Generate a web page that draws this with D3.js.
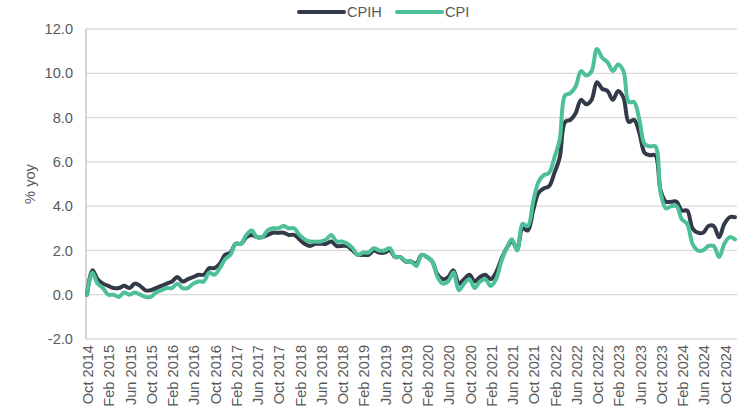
<!DOCTYPE html>
<html><head>
<meta charset="utf-8">
<script src="https://d3js.org/d3.v7.min.js"></script>
<style>
  body { margin: 0; background: #fff; }
  text { font-family: "Liberation Sans", Arial, sans-serif; fill: #595959; }
  .grid { stroke: #d9d9d9; stroke-width: 1.3px; }
  .series { fill: none; stroke-width: 4px; stroke-linejoin: round; stroke-linecap: round; }
</style>
</head>
<body>
<svg id="chart" width="745" height="412"></svg>
<script>
// monthly, Oct 2014 .. Dec 2024 (first point blank in the source, drawn at 0)
const months = d3.timeMonth.range(new Date(2014, 9, 1), new Date(2025, 0, 1));

const cpih = [
  0, 1.1, 0.7,
  0.5, 0.4, 0.3, 0.3, 0.4, 0.3, 0.5, 0.4, 0.2, 0.2, 0.3, 0.4,
  0.5, 0.6, 0.8, 0.6, 0.7, 0.8, 0.9, 0.9, 1.2, 1.2, 1.4, 1.8,
  1.9, 2.3, 2.3, 2.6, 2.7, 2.6, 2.6, 2.7, 2.8, 2.8, 2.8, 2.7,
  2.7, 2.5, 2.3, 2.2, 2.3, 2.3, 2.3, 2.4, 2.2, 2.2, 2.2, 2.0,
  1.8, 1.8, 1.8, 2.0, 1.9, 1.9, 2.0, 1.7, 1.7, 1.5, 1.5, 1.4,
  1.8, 1.7, 1.5, 0.9, 0.7, 0.8, 1.1, 0.5, 0.7, 0.9, 0.6, 0.8,
  0.9, 0.7, 1.0, 1.6, 2.1, 2.4, 2.1, 3.0, 2.9, 3.8, 4.6, 4.8,
  4.9, 5.5, 6.2, 7.8, 7.9, 8.2, 8.8, 8.6, 8.8, 9.6, 9.3, 9.2,
  8.8, 9.2, 8.9, 7.8, 7.9, 7.3, 6.4, 6.3, 6.3, 4.7, 4.2, 4.2,
  4.2, 3.8, 3.8, 3.0, 2.8, 2.8, 3.1, 3.1, 2.6, 3.2, 3.5, 3.5
];

const cpi = [
  0, 1.0, 0.5,
  0.3, 0.0, 0.0, -0.1, 0.1, 0.0, 0.1, 0.0, -0.1, -0.1, 0.1, 0.2,
  0.3, 0.3, 0.5, 0.3, 0.3, 0.5, 0.6, 0.6, 1.0, 0.9, 1.2, 1.6,
  1.8, 2.3, 2.3, 2.7, 2.9, 2.6, 2.6, 2.9, 3.0, 3.0, 3.1, 3.0,
  3.0, 2.7, 2.5, 2.4, 2.4, 2.4, 2.5, 2.7, 2.4, 2.4, 2.3, 2.1,
  1.8, 1.9, 1.9, 2.1, 2.0, 2.0, 2.1, 1.7, 1.7, 1.5, 1.5, 1.3,
  1.8, 1.7, 1.5, 0.8, 0.5, 0.6, 1.0, 0.2, 0.5, 0.7, 0.3, 0.6,
  0.7, 0.4, 0.7, 1.5, 2.1, 2.5, 2.0, 3.2, 3.1, 4.2, 5.1, 5.4,
  5.5, 6.2, 7.0, 9.0, 9.1, 9.4, 10.1, 9.9, 10.1, 11.1, 10.7, 10.5,
  10.1, 10.4, 10.1, 8.7, 8.7, 7.9, 6.8, 6.7, 6.7, 4.6, 3.9, 4.0,
  4.0, 3.4, 3.2, 2.3, 2.0, 2.0, 2.2, 2.2, 1.7, 2.3, 2.6, 2.5
];

const tickLabels = [
  "Oct 2014", "Feb 2015", "Jun 2015", "Oct 2015", "Feb 2016", "Jun 2016",
  "Oct 2016", "Feb 2017", "Jun 2017", "Oct 2017", "Feb 2018", "Jun 2018",
  "Oct 2018", "Feb 2019", "Jun 2019", "Oct 2019", "Feb 2020", "Jun 2020",
  "Oct 2020", "Feb 2021", "Jun 2021", "Oct 2021", "Feb 2022", "Jun 2022",
  "Oct 2022", "Feb 2023", "Jun 2023", "Oct 2023", "Feb 2024", "Jun 2024",
  "Oct 2024"
];

const yTicks = [-2, 0, 2, 4, 6, 8, 10, 12];

const seriesNames = ["CPIH", "CPI"];
const seriesColors = ["#323a48", "#4dbf99"];

const svg = d3.select("#chart");
const plotL = 86, plotR = 737, plotT = 29, plotB = 339;

const fmt = d3.timeFormat("%b %Y");
const x = d3.scalePoint()
  .domain(months.map(fmt))
  .range([plotL + 1, plotR - 2]);

const y = d3.scaleLinear().domain([-2, 12]).range([plotB, plotT]);

// gridlines
svg.append("g").selectAll("line").data(yTicks).join("line")
  .attr("class", "grid")
  .attr("x1", plotL).attr("x2", plotR)
  .attr("y1", d => y(d)).attr("y2", d => y(d));

// y axis line
svg.append("line")
  .attr("x1", plotL).attr("x2", plotL)
  .attr("y1", plotT).attr("y2", plotB)
  .attr("stroke", "#bfbfbf").attr("stroke-width", 1.3);

// y tick labels
svg.append("g").selectAll("text").data(yTicks).join("text")
  .attr("x", 73)
  .attr("y", d => y(d))
  .attr("dy", "0.35em")
  .attr("text-anchor", "end")
  .style("font-size", "14.6px")
  .text(d => d.toFixed(1));

// y axis title
svg.append("text")
  .attr("transform", `translate(35,${(plotT + plotB) / 2}) rotate(-90)`)
  .attr("text-anchor", "middle")
  .style("font-size", "14.6px")
  .text("% yoy");

// x tick labels
svg.append("g").selectAll("text").data(tickLabels).join("text")
  .attr("transform", d => `translate(${x(d) + 1},345) rotate(-90)`)
  .attr("dy", "0.35em")
  .attr("text-anchor", "end")
  .style("font-size", "14.6px")
  .text(d => d);

// lines
const line = d3.line()
  .x((d, i) => x(fmt(months[i])))
  .y(d => y(d))
  .curve(d3.curveCatmullRom.alpha(0.5));

[cpih, cpi].forEach((vals, k) => {
  svg.append("path")
    .datum(vals)
    .attr("class", "series")
    .attr("stroke", seriesColors[k])
    .attr("d", line);
});

// legend
const legendX = [299, 397];
seriesNames.forEach((name, k) => {
  svg.append("line")
    .attr("x1", legendX[k]).attr("x2", legendX[k] + 45)
    .attr("y1", 12).attr("y2", 12)
    .attr("stroke", seriesColors[k])
    .attr("stroke-width", 4)
    .attr("stroke-linecap", "round");
  svg.append("text")
    .attr("x", legendX[k] + 48)
    .attr("y", 12)
    .attr("dy", "0.35em")
    .style("font-size", "14.6px")
    .text(name);
});
</script>
</body></html>
